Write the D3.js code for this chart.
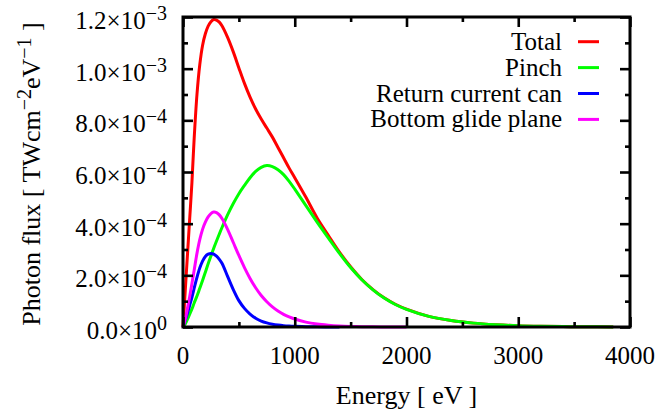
<!DOCTYPE html>
<html>
<head>
<meta charset="utf-8">
<script src="https://cdn.jsdelivr.net/npm/d3@7"></script>
<style>
  html, body { margin: 0; padding: 0; background: #fff; }
  svg { display: block; }
  text { font-family: "Liberation Serif", "Tinos", "Times New Roman", "DejaVu Serif", serif; fill: #000; }
</style>
</head>
<body>
<svg id="chart" width="660" height="415" font-family="Liberation Serif, serif"></svg>
<script>
// ---- data (photon flux in units of 1e-4 TW cm^-2 eV^-1) ----
const energy = [0,20,40,60,80,100,125,150,175,200,225,250,275,300,325,350,400,450,500,550,600,650,700,750,800,850,900,950,1000,1100,1200,1300,1400,1500,1600,1700,1800,1900,2000,2200,2400,2600,2800,3000,3200,3400,3600,3850];
const total  = [0,1.4,2.8,4.2,5.6,7.3,9.0,10.15,10.9,11.35,11.65,11.82,11.9,11.88,11.8,11.65,11.2,10.65,10.03,9.43,8.9,8.44,8.05,7.7,7.35,6.95,6.55,6.15,5.78,5.02,4.22,3.55,2.9,2.33,1.84,1.45,1.13,0.88,0.69,0.41,0.25,0.15,0.09,0.05,0.028,0.015,0.008,0.004];
const pinch  = [0,0.12,0.3,0.5,0.7,0.93,1.2,1.5,1.8,2.12,2.45,2.75,3.05,3.33,3.6,3.86,4.35,4.78,5.16,5.48,5.78,6.02,6.18,6.25,6.21,6.09,5.9,5.64,5.34,4.70,4.06,3.45,2.85,2.30,1.83,1.44,1.12,0.87,0.68,0.41,0.25,0.15,0.09,0.05,0.028,0.015,0.008,0.004];
const returnCan = [0,0.26,0.54,0.84,1.15,1.5,1.92,2.28,2.55,2.73,2.82,2.85,2.82,2.74,2.62,2.46,1.95,1.45,1.02,0.72,0.5,0.34,0.23,0.16,0.11,0.075,0.05,0.035,0.025,0.012,0.005,0.002,0,null,null,null,null,null,null,null,null,null,null,null,null,null,null,null];
const bottomGlide = [0,0.3,0.72,1.18,1.68,2.2,2.85,3.38,3.78,4.06,4.26,4.39,4.45,4.43,4.34,4.19,3.77,3.27,2.77,2.3,1.88,1.52,1.22,0.98,0.78,0.62,0.49,0.39,0.31,0.19,0.115,0.07,0.04,0.022,0.012,0.006,0.003,0.001,0,null,null,null,null,null,null,null,null,null];
const valueUnit = 1e-4;

const seriesNames  = ["Total", "Pinch", "Return current can", "Bottom glide plane"];
const seriesValues = [total, pinch, returnCan, bottomGlide];
const seriesColors = ["#ff0000", "#00ff00", "#0000ff", "#ff00ff"];

const xTicks = [0, 1000, 2000, 3000, 4000];
const xMinorTicks = [500, 1500, 2500, 3500];
const yTicks = [0, 2e-4, 4e-4, 6e-4, 8e-4, 1.0e-3, 1.2e-3];
const yTickMantissa = ["0.0", "2.0", "4.0", "6.0", "8.0", "1.0", "1.2"];
const yTickExponent = ["0", "\u22124", "\u22124", "\u22124", "\u22124", "\u22123", "\u22123"];
const yMinorTicks = [1e-4, 3e-4, 5e-4, 7e-4, 9e-4, 1.1e-3];

// ---- layout ----
const L = 183, R = 630, T = 17, B = 327;
const svg = d3.select("#chart");
const x = d3.scaleLinear().domain([0, 4000]).range([L, R]);
const y = d3.scaleLinear().domain([0, 1.2e-3]).range([B, T]);

const FS = 26, FL = 25, FT = 25, SUP = 20;

// ---- curves ----
const line = d3.line()
  .defined(d => d[1] !== null)
  .x(d => x(d[0]))
  .y(d => y(Math.max(0, d[1]) * valueUnit))
  .curve(d3.curveCatmullRom.alpha(0.5));

seriesValues.forEach((vals, i) => {
  const pts = energy.map((e, k) => [e, vals[k]]);
  svg.append("path")
    .attr("d", line(pts))
    .attr("fill", "none")
    .attr("stroke", seriesColors[i])
    .attr("stroke-width", 3)
    .attr("stroke-linejoin", "round");
});

// ---- ticks (inward, mirrored) ----
function styleAxis(g) {
  g.select(".domain").remove();
  g.selectAll("line").attr("stroke", "#000").attr("stroke-width", 2.6);
  g.selectAll("text").remove();
}
const MAJ = 10, MIN = 5;
svg.append("g").attr("transform", `translate(0,${B})`)
  .call(d3.axisBottom(x).tickValues(xTicks).tickSize(-MAJ).tickFormat("")).call(styleAxis);
svg.append("g").attr("transform", `translate(0,${B})`)
  .call(d3.axisBottom(x).tickValues(xMinorTicks).tickSize(-MIN).tickFormat("")).call(styleAxis);
svg.append("g").attr("transform", `translate(0,${T})`)
  .call(d3.axisTop(x).tickValues(xTicks).tickSize(-MAJ).tickFormat("")).call(styleAxis);
svg.append("g").attr("transform", `translate(0,${T})`)
  .call(d3.axisTop(x).tickValues(xMinorTicks).tickSize(-MIN).tickFormat("")).call(styleAxis);
svg.append("g").attr("transform", `translate(${L},0)`)
  .call(d3.axisLeft(y).tickValues(yTicks).tickSize(-MAJ).tickFormat("")).call(styleAxis);
svg.append("g").attr("transform", `translate(${L},0)`)
  .call(d3.axisLeft(y).tickValues(yMinorTicks).tickSize(-MIN).tickFormat("")).call(styleAxis);
svg.append("g").attr("transform", `translate(${R},0)`)
  .call(d3.axisRight(y).tickValues(yTicks).tickSize(-MAJ).tickFormat("")).call(styleAxis);
svg.append("g").attr("transform", `translate(${R},0)`)
  .call(d3.axisRight(y).tickValues(yMinorTicks).tickSize(-MIN).tickFormat("")).call(styleAxis);

// ---- frame ----
svg.append("rect")
  .attr("x", L).attr("y", T).attr("width", R - L).attr("height", B - T)
  .attr("fill", "none").attr("stroke", "#000").attr("stroke-width", 3);

// ---- x tick labels ----
svg.selectAll(".xl").data(xTicks).enter().append("text")
  .attr("x", d => x(d)).attr("y", B + 37)
  .attr("text-anchor", "middle").attr("font-size", FT)
  .text(d => d);

// ---- y tick labels ----
yTicks.forEach((v, i) => {
  const t = svg.append("text")
    .attr("x", 167).attr("y", y(v) + 12)
    .attr("text-anchor", "end").attr("font-size", FT);
  t.append("tspan").text(yTickMantissa[i] + "\u00d710");
  t.append("tspan").attr("dy", -9).attr("font-size", SUP).text(yTickExponent[i]);
});

// ---- axis titles ----
svg.append("text")
  .attr("x", (L + R) / 2).attr("y", 404)
  .attr("text-anchor", "middle").attr("font-size", FS)
  .text("Energy [ eV ]");

const yt = svg.append("text")
  .attr("transform", `translate(40,${(T + B) / 2 + 2}) rotate(-90)`)
  .attr("text-anchor", "middle").attr("font-size", FS);
yt.append("tspan").text("Photon flux [ TWcm");
yt.append("tspan").attr("dy", -9).attr("font-size", SUP).text("\u22122");
yt.append("tspan").attr("dy", 9).text("eV");
yt.append("tspan").attr("dy", -9).attr("font-size", SUP).text("\u22121");
yt.append("tspan").attr("dy", 9).text(" ]");

// ---- legend ----
seriesNames.forEach((name, i) => {
  const cy = 41.7 + i * 25.9;
  svg.append("text")
    .attr("x", 562).attr("y", cy + 8)
    .attr("text-anchor", "end").attr("font-size", FL)
    .text(name);
  svg.append("line")
    .attr("x1", 578).attr("x2", 599).attr("y1", cy).attr("y2", cy)
    .attr("stroke", seriesColors[i]).attr("stroke-width", 3);
});
</script>
</body>
</html>
